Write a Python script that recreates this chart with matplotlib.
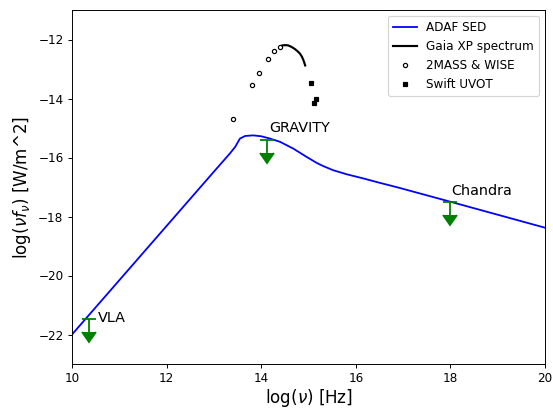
import matplotlib
matplotlib.use("Agg")
import matplotlib.pyplot as plt
import numpy as np

# ADAF SED model curve
adaf_x = [10.0, 12.0, 13.0, 13.34, 13.45, 13.55, 13.66, 13.83, 14.0, 14.19, 14.4, 14.68, 14.96, 15.17, 15.31,
          15.52, 15.81, 16.16, 16.51, 16.90, 18.0, 20.0]
adaf_y = [-22.0, -18.32, -16.48, -15.86, -15.64, -15.36, -15.27, -15.25, -15.28, -15.36, -15.47, -15.70, -15.98,
          -16.18, -16.29, -16.43, -16.57, -16.71, -16.86, -17.02, -17.5, -18.38]

# Gaia XP spectrum
gaia_x = [14.45, 14.51, 14.57, 14.64, 14.71, 14.77, 14.82, 14.86, 14.89, 14.91, 14.93]
gaia_y = [-12.20, -12.19, -12.20, -12.25, -12.32, -12.40, -12.48, -12.58, -12.69, -12.78, -12.88]

# 2MASS & WISE photometry
tm_x = [13.40, 13.81, 13.95, 14.14, 14.27, 14.40]
tm_y = [-14.69, -13.55, -13.14, -12.67, -12.40, -12.24]

# Swift UVOT photometry
uv_x = [15.05, 15.12, 15.16]
uv_y = [-13.47, -14.14, -14.02]

# Upper limits
lim_names = ["VLA", "GRAVITY", "Chandra"]
lim_x = [10.35, 14.13, 17.99]
lim_y = [-21.47, -15.39, -17.50]
lim_len = 0.45

fig = plt.figure(figsize=(553 / 86.4, 409 / 86.4), dpi=86.4)
ax = fig.add_axes([72 / 553, 1 - 364 / 409, (545 - 72) / 553, (364 - 10) / 409])

ax.plot(adaf_x, adaf_y, color="blue", lw=1.5, label="ADAF SED")
ax.plot(gaia_x, gaia_y, color="black", lw=1.8, label="Gaia XP spectrum")
ax.plot(tm_x, tm_y, "o", mfc="none", mec="black", ms=3.5, mew=1.0, ls="none", label="2MASS & WISE")
ax.plot(uv_x, uv_y, "s", color="black", ms=3.5, ls="none", label="Swift UVOT")

ax.errorbar(lim_x, lim_y, yerr=lim_len, uplims=True, fmt="none", color="green", ecolor="green",
            capsize=5.5, elinewidth=1.5, capthick=1.5)

ax.text(10.55, -21.43, "VLA", fontsize=12, va="center", ha="left")
ax.text(14.17, -15.0, "GRAVITY", fontsize=12, va="center", ha="left")
ax.text(18.01, -17.12, "Chandra", fontsize=12, va="center", ha="left")

ax.set_xlim(10, 20)
ax.set_ylim(-23, -11)
ax.set_xlabel(r"log($\nu$) [Hz]", fontsize=14, labelpad=1)
ax.set_ylabel(r"log($\nu f_\nu$) [W/m^2]", fontsize=14)
ax.legend(loc="upper right")

fig.savefig("out.png", dpi=86.4)
